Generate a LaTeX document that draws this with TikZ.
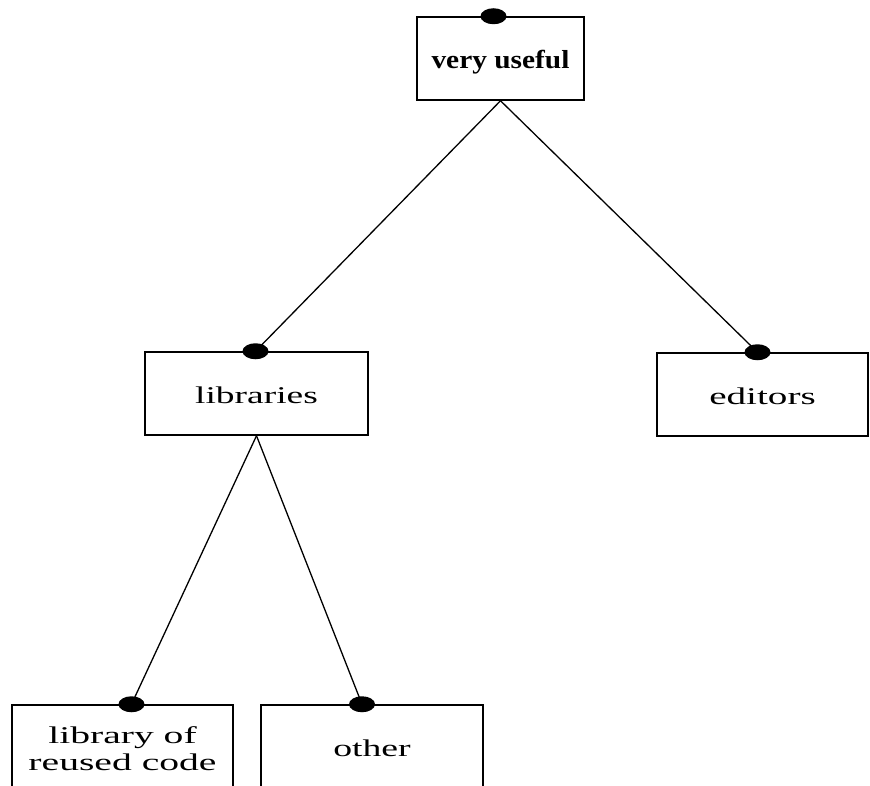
\documentclass[tikz,border=0pt]{standalone}
\usepackage{fontspec}
\setmainfont{Liberation Serif}
\usepackage{graphicx}
\usepackage{tikz}
\usetikzlibrary{shapes.geometric, positioning}

\newcommand{\widetext}[2]{\raisebox{-5pt}[\height][\depth]{%
  \scalebox{#1}[1]{\begin{tabular}{@{}c@{}}#2\end{tabular}}}}

\begin{document}
\begin{tikzpicture}[x=1pt, y=-1pt,
    box/.style={rectangle, draw, line width=1.5pt, align=center,
                font=\fontsize{24}{27}\selectfont, inner sep=0pt},
    ball/.style={ellipse, fill=black, inner sep=0pt,
                 minimum width=26pt, minimum height=16pt},
    link/.style={line width=1.3pt}]
  \useasboundingbox (0,0) rectangle (870,786);
  \node[box, minimum width=167pt, minimum height=83pt] (useful) at (500.5,58.5)
    {\widetext{1.13}{\fontsize{26}{29}\selectfont\bfseries very useful}};
  \node[box, minimum width=223pt, minimum height=83pt] (libs) at (256.5,393.5)
    {\widetext{1.56}{libraries}};
  \node[box, minimum width=211pt, minimum height=83pt] (editors) at (762.5,394.5)
    {\widetext{1.63}{editors}};
  \node[box, minimum width=221pt, minimum height=83pt] (reused) at (122.5,746.5)
    {\widetext{1.65}{library of\\reused code}};
  \node[box, minimum width=222pt, minimum height=83pt] (other) at (372,746.5)
    {\widetext{1.57}{other}};
  \node[ball] (balluseful) at ([xshift=-7pt]useful.north) {};
  \node[ball] (balllibs) at ([xshift=-1pt]libs.north) {};
  \node[ball] (balleditors) at ([xshift=-5pt]editors.north) {};
  \node[ball] (ballreused) at ([xshift=9pt]reused.north) {};
  \node[ball] (ballother) at ([xshift=-10pt]other.north) {};
  \draw[link] (useful.south) -- (balllibs.center);
  \draw[link] (useful.south) -- (balleditors.center);
  \draw[link] (libs.south) -- (ballreused.center);
  \draw[link] (libs.south) -- (ballother.center);
\end{tikzpicture}
\end{document}
